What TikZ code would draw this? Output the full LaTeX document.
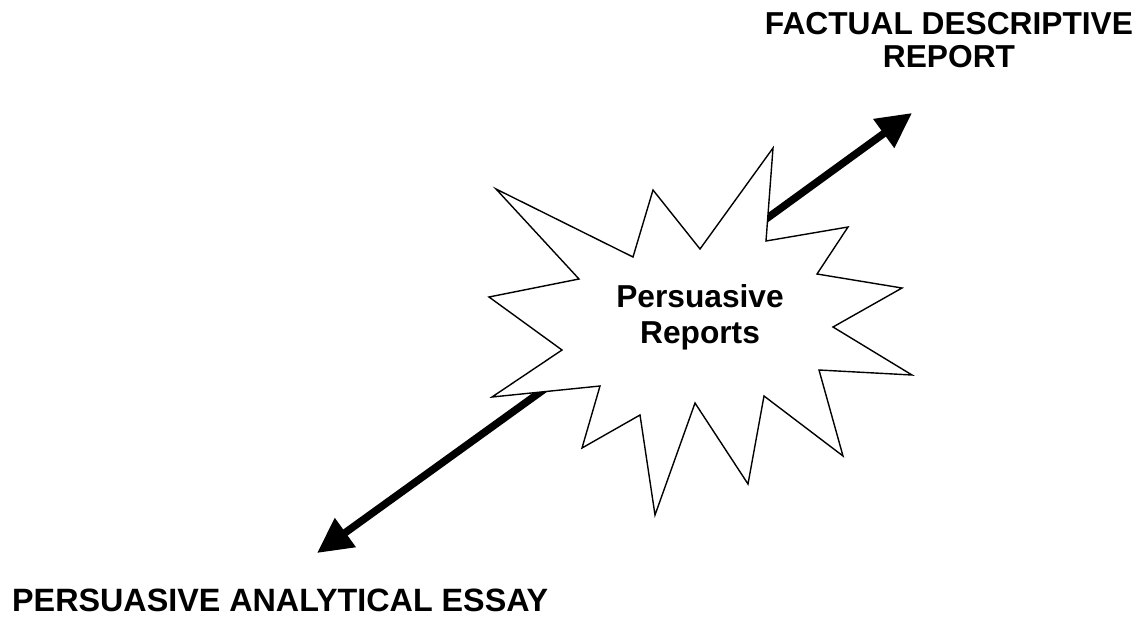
\documentclass[tikz,border=0pt]{standalone}
\usepackage{fontspec}
\setmainfont{Liberation Sans}
\usetikzlibrary{arrows.meta}
\begin{document}
\begin{tikzpicture}[x=1pt,y=-1pt,
  bigarrow/.style={line width=7.5pt,-{Triangle[length=35pt,width=34pt]}},
  label/.style={font=\fontsize{31.7}{33}\selectfont\bfseries,inner sep=0pt},
  starline/.style={draw=black,fill=white,line width=1.4pt,line join=miter}]
\useasboundingbox (0,0) rectangle (1142,616);
% arrows (behind the star)
\coordinate (us) at (744,235);
\coordinate (ut) at (912,113);
\coordinate (ls) at (564,375);
\coordinate (lt) at (317,553);
\draw[bigarrow] (us) -- (ut);
\draw[bigarrow] (ls) -- (lt);
% starburst
\draw[starline] (496,189) -- (633,257) -- (653,190) -- (700,249) -- (773,148)
  -- (766,241) -- (848,227) -- (817,274) -- (902,288) -- (833,327)
  -- (912,375) -- (819,370) -- (843,456) -- (764,396) -- (748,484)
  -- (695,403) -- (655,515) -- (640,415) -- (582,448) -- (600,386)
  -- (492,397) -- (562,350) -- (489,297) -- (579,279) -- cycle;
% texts
\node[label,font=\fontsize{31.7}{36}\selectfont\bfseries,anchor=base,align=center] (center) at (700,343) {Persuasive\\Reports};
\node[label,anchor=base,align=center] (top) at (949,67) {FACTUAL DESCRIPTIVE\\REPORT};
\node[label,font=\fontsize{32.3}{33}\selectfont\bfseries,anchor=base west] (bottom) at (12,611) {PERSUASIVE ANALYTICAL ESSAY};
\end{tikzpicture}
\end{document}
